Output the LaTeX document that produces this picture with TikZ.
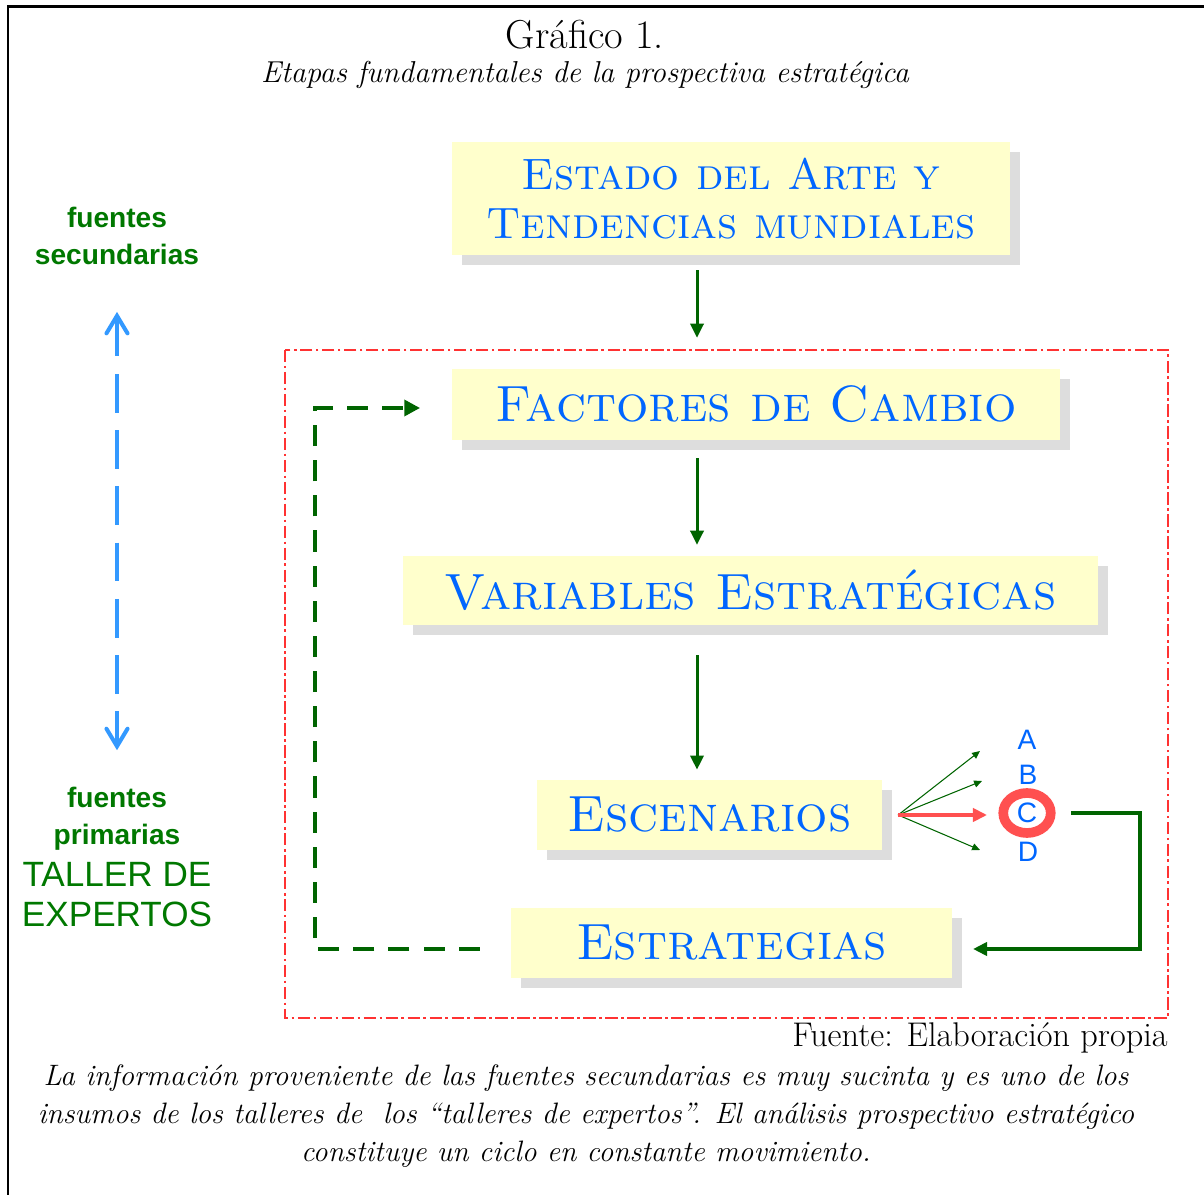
\documentclass[tikz,border=0pt]{standalone}
\usepackage{fontspec}
\newfontfamily\arialf{Liberation Sans}
\usetikzlibrary{arrows.meta,shadows,shapes.geometric}
\definecolor{boxfill}{RGB}{255,255,204}
\definecolor{shadowgray}{RGB}{221,221,221}
\definecolor{etapablue}{RGB}{0,102,255}
\definecolor{flowgreen}{RGB}{0,100,0}
\definecolor{labelgreen}{RGB}{0,120,0}
\definecolor{skyblue}{RGB}{51,153,255}
\definecolor{ringred}{RGB}{255,80,80}
\definecolor{framered}{RGB}{255,50,50}

\tikzset{
etapa/.style={fill=boxfill, text=etapablue, inner sep=0pt, align=center,
  font=\fontsize{29}{33}\selectfont\scshape,
  drop shadow={shadow xshift=5.7pt, shadow yshift=-5.7pt, fill=shadowgray, opacity=1}},
flow/.style={draw=flowgreen, line width=1.7pt, -{Triangle[length=8pt,width=7.5pt]}},
fanarr/.style={draw=flowgreen, line width=0.6pt, -{Triangle[length=4.5pt,width=4pt]}},
regreso/.style={draw=flowgreen, line width=2.8pt, dash pattern=on 12pt off 8pt,
  -{Triangle[length=9pt,width=9pt]}},
letra/.style={text=etapablue, font=\arialf\fontsize{16}{18}\selectfont, inner sep=0pt},
fuentes/.style={text=labelgreen, align=center, inner sep=0pt}
}

\begin{document}
\begin{tikzpicture}[x=0.02cm, y=-0.02cm]
\useasboundingbox (0,0) rectangle (1204,1195);
\draw[line width=1.7pt] (8,1195) -- (8,7) -- (1204,7);

\node[font=\fontsize{23}{26}\selectfont] (titulo) at (585,35) {Gráfico 1.};
\node[font=\fontsize{17.2}{20}\selectfont\itshape] (subtitulo) at (585,75) {Etapas fundamentales de la prospectiva estratégica};

\draw[framered, line width=0.9pt, dash pattern=on 7pt off 2pt on 1.5pt off 2pt] (285,350) rectangle (1168,1018);

\node[etapa, minimum width=11.16cm, minimum height=2.26cm, font=\fontsize{25}{28.3}\selectfont\scshape]
  (estado) at (731,198.5) {Estado del Arte y\\Tendencias mundiales};
\node[etapa, minimum width=12.16cm, minimum height=1.42cm] (factores) at (756,404.5) {Factores de Cambio};
\node[etapa, minimum width=13.9cm, minimum height=1.38cm] (variables) at (750.5,590.5) {Variables Estratégicas};
\node[etapa, minimum width=6.9cm, minimum height=1.4cm] (escenarios) at (709.5,815) {Escenarios};
\node[etapa, minimum width=8.82cm, minimum height=1.4cm] (estrategias) at (731.5,943) {Estrategias};

\coordinate (ax) at (697,0);
\draw[flow, shorten <=8.5pt, shorten >=17.6pt] (estado.south -| ax) -- (factores.north -| ax);
\draw[flow, shorten <=10.2pt, shorten >=6.2pt] (factores.south -| ax) -- (variables.north -| ax);
\draw[flow, shorten <=17pt, shorten >=5.7pt] (variables.south -| ax) -- (escenarios.north -| ax);

\node[letra] (A) at (1027,740) {A};
\node[letra] (B) at (1028,775) {B};
\node[letra, shape=ellipse, draw=ringred, line width=5.5pt, minimum width=0.95cm, minimum height=0.8cm] (C) at (1027,813) {C};
\node[letra] (D) at (1028,852) {D};

\coordinate (fan) at ([xshift=9pt]escenarios.east);
\coordinate (tipA) at (980,751);
\coordinate (tipB) at (982,781);
\coordinate (tipC) at (987,815);
\coordinate (tipD) at (980,850);
\draw[fanarr] (fan) -- (tipA);
\draw[fanarr] (fan) -- (tipB);
\draw[fanarr] (fan) -- (tipD);
\draw[draw=ringred, line width=2.3pt, -{Triangle[length=8pt,width=7.5pt]}] (fan) -- (tipC);

\coordinate (rx) at (1140,949);
\draw[flow, line width=2pt] ([xshift=9pt]C.east) -| (rx) -- ([xshift=11.8pt]estrategias.east |- rx);

\coordinate (lx) at (315,408);
\draw[regreso] ([xshift=-17.6pt]estrategias.west |- rx) -- (lx |- rx) -- (lx) -- ([xshift=-18pt]factores.west |- lx);

\node[fuentes, font=\arialf\bfseries\fontsize{16}{21}\selectfont] (secundarias) at (117,236) {fuentes\\secundarias};
\node[fuentes, font=\arialf\bfseries\fontsize{16}{21}\selectfont] (primarias) at (117,819) {fuentes\\primarias};
\node[fuentes, font=\arialf\fontsize{20}{22.7}\selectfont] (taller) at (117,894.5) {TALLER DE\\EXPERTOS};

\draw[skyblue, line width=2.3pt, dash pattern=on 22pt off 10pt,
  {Straight Barb[length=10pt,width=12pt,line cap=round]}-{Straight Barb[length=10pt,width=12pt,line cap=round]},
  shorten <=26.6pt, shorten >=21pt] (secundarias.south) -- (primarias.north);

\node[anchor=east, inner sep=0pt, font=\fontsize{19.5}{22}\selectfont] (fuente) at (1168,1038) {Fuente: Elaboración propia};
\node[align=center, inner sep=0pt, font=\fontsize{16.8}{21.5}\selectfont\itshape] (nota) at (586,1116)
  {La información proveniente de las fuentes secundarias es muy sucinta y es uno de los\\
  insumos de los talleres de\ \ los “talleres de expertos”. El análisis prospectivo estratégico\\
  constituye un ciclo en constante movimiento.};
\end{tikzpicture}
\end{document}
